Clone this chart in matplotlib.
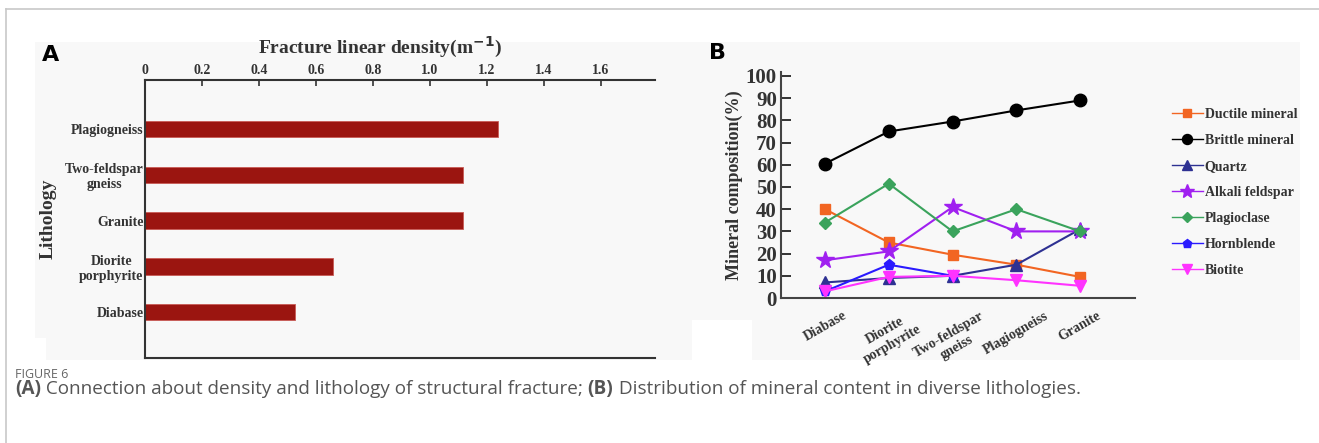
import matplotlib
matplotlib.use('Agg')
import matplotlib.pyplot as plt
from matplotlib.patches import Rectangle
from matplotlib.lines import Line2D

plt.rcParams['font.family'] = ['Liberation Serif', 'DejaVu Serif']

# panel A data
litho_a = ['Diabase', 'Diorite\nporphyrite', 'Granite', 'Two-feldspar\ngneiss', 'Plagiogneiss']
density = [0.525, 0.66, 1.115, 1.115, 1.24]
density_ticks = [0, 0.2, 0.4, 0.6, 0.8, 1.0, 1.2, 1.4, 1.6]

# panel B data
litho_b = ['Diabase', 'Diorite\nporphyrite', 'Two-feldspar\ngneiss', 'Plagiogneiss', 'Granite']
ductile = [40, 25, 19.5, 15, 9.5]
brittle = [60.5, 75, 79.5, 84.5, 89]
quartz = [7, 9, 10, 15, 31]
alkali = [17, 21, 41, 30, 30]
plagioclase = [34, 51.5, 30, 40, 30]
hornblende = [3, 15, 10]
biotite = [3, 9.5, 10, 8, 5.5]

W, H = 1319, 443
fig = plt.figure(figsize=(W / 100, H / 100), dpi=100)
fig.patch.set_facecolor('white')


def px(x0, y0, x1, y1):
    # pixel box (top-left origin) -> figure fraction rect
    return [x0 / W, 1 - y1 / H, (x1 - x0) / W, (y1 - y0) / H]


# background: card frame + light gray image area
bg = fig.add_axes([0, 0, 1, 1], zorder=-10)
bg.set_xlim(0, W)
bg.set_ylim(H, 0)
bg.axis('off')
bg.add_line(Line2D([6, 6], [9, H], color='#c8c8c8', lw=1.2))
bg.add_line(Line2D([6, W], [9, 9], color='#c8c8c8', lw=1.2))
bg.add_patch(Rectangle((35, 42), 1265, 318, color='#f8f8f8', lw=0))
bg.add_patch(Rectangle((35, 338), 11, 22, color='white', lw=0))
bg.add_patch(Rectangle((692, 320), 60, 40, color='white', lw=0))

# ---------- panel A ----------
axA = fig.add_axes(px(145, 80, 655, 358))
axA.set_facecolor('none')
ypos = list(range(len(litho_a)))
axA.barh(ypos, density, height=0.36, color='#9b1510', edgecolor='#c85a55', lw=0.6)
axA.set_xlim(0, 1.79)
axA.set_ylim(-1.0, 5.07)
axA.xaxis.tick_top()
axA.xaxis.set_label_position('top')
axA.set_xticks(density_ticks)
axA.set_xticklabels(['0', '0.2', '0.4', '0.6', '0.8', '1.0', '1.2', '1.4', '1.6'])
axA.set_yticks(ypos)
axA.set_yticklabels(litho_a)
axA.tick_params(axis='x', direction='in', length=4, width=1.2, pad=2, labelsize=10,
                colors='#333333')
axA.tick_params(axis='y', length=0, pad=1, labelsize=10, colors='#333333')
for lab in axA.get_xticklabels() + axA.get_yticklabels():
    lab.set_fontweight('bold')
for lab in axA.get_yticklabels():
    lab.set_multialignment('center')
axA.spines['right'].set_visible(False)
for s in ['top', 'left', 'bottom']:
    axA.spines[s].set_linewidth(1.5)
    axA.spines[s].set_color('#333333')
axA.set_xlabel('Fracture linear density(m$^{\\mathbf{-1}}$)', fontsize=14, fontweight='bold',
               color='#333333')
axA.xaxis.set_label_coords(0.46, 1.095)
axA.set_ylabel('Lithology', fontsize=14, fontweight='bold', labelpad=6, color='#333333')
fig.text(42 / W, 1 - 55 / H, 'A', fontsize=16, fontweight='bold', family='DejaVu Sans',
         va='center', ha='left')

# ---------- panel B ----------
axB = fig.add_axes(px(781, 72, 1135, 298))
axB.set_facecolor('none')
xb = list(range(len(litho_b)))
axB.plot(xb, ductile, color='#f26522', marker='s', ms=7, lw=1.5, label='Ductile mineral')
axB.plot(xb, brittle, color='black', marker='o', ms=9, lw=1.5, label='Brittle mineral')
axB.plot(xb, quartz, color='#2e3192', marker='^', ms=9, lw=1.5, label='Quartz')
axB.plot(xb, alkali, color='#a020f0', marker='*', ms=13, lw=1.5, label='Alkali feldspar')
axB.plot(xb, plagioclase, color='#3aa35c', marker='D', ms=6, lw=1.5, label='Plagioclase')
axB.plot(xb[:3], hornblende, color='#2a1aff', marker='p', ms=8, lw=1.5, label='Hornblende')
axB.plot(xb, biotite, color='#ff33ff', marker='v', ms=9, lw=1.5, label='Biotite')
axB.set_xlim(-0.69, 4.86)
axB.set_ylim(0, 101.8)
axB.set_yticks(range(0, 101, 10))
axB.set_xticks(xb)
axB.set_xticklabels(litho_b, rotation=30, ha='center', va='top', fontsize=10,
                    fontweight='bold', color='#333333')
axB.tick_params(axis='x', length=0, pad=8)
axB.tick_params(axis='y', direction='in', length=7, width=1.4, pad=3, labelsize=15,
                colors='#333333')
for lab in axB.get_yticklabels():
    lab.set_fontweight('bold')
for lab in axB.get_xticklabels():
    lab.set_multialignment('center')
axB.spines['right'].set_visible(False)
axB.spines['top'].set_visible(False)
for s in ['left', 'bottom']:
    axB.spines[s].set_linewidth(1.5)
    axB.spines[s].set_color('#444444')
axB.set_ylabel('Mineral composition(%)', fontsize=13, fontweight='bold', labelpad=2,
               color='#333333')
fig.text(709 / W, 1 - 53 / H, 'B', fontsize=16, fontweight='bold', family='DejaVu Sans',
         va='center', ha='left')

handles, labels = axB.get_legend_handles_labels()
leg = fig.legend(handles, labels, loc='upper left', bbox_to_anchor=(1172 / W, 1 - 108 / H),
                 frameon=False, fontsize=10, handlelength=2.2, handletextpad=0.15,
                 labelspacing=0.93, markerscale=0.8, borderaxespad=0, borderpad=0)
for t in leg.get_texts():
    t.set_fontweight('bold')
    t.set_color('#333333')
for h in leg.legend_handles:
    h.set_linewidth(1.0)

# ---------- caption ----------
fig.text(15 / W, 1 - 375 / H, 'FIGURE 6', fontsize=9, family='Open Sans', color='#666666',
         va='center', ha='left')
pieces = [('(A)', 'bold'), (' Connection about density and lithology of structural fracture; ', 'normal'),
          ('(B)', 'bold'), (' Distribution of mineral content in diverse lithologies.', 'normal')]
fig.canvas.draw()
r = fig.canvas.get_renderer()
xcur = 15
for txt, wt in pieces:
    t = fig.text(xcur / W, 1 - 389 / H, txt, fontsize=13.6, family='Open Sans', fontweight=wt,
                 color='#555555', va='center', ha='left')
    xcur += t.get_window_extent(renderer=r).width

fig.savefig('out.png', dpi=100)
